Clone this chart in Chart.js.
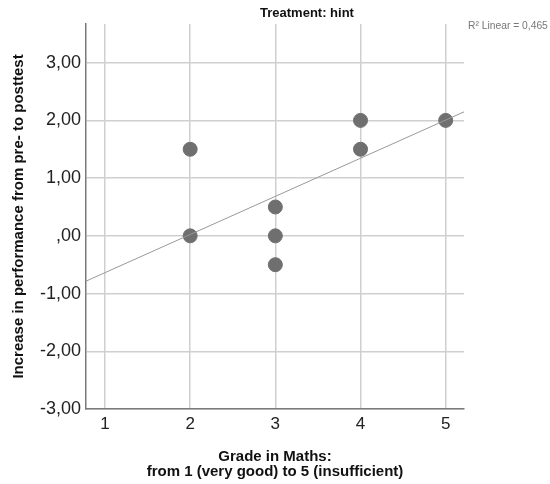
<!DOCTYPE html>
<html>
<head>
<meta charset="utf-8">
<script src="https://cdn.jsdelivr.net/npm/chart.js@4/dist/chart.umd.min.js"></script>
<style>
  html, body { margin: 0; padding: 0; background: #fff; }
  #wrap { width: 550px; height: 484px; }
</style>
</head>
<body>
<div id="wrap"><canvas id="grafico"></canvas></div>
<script>
// datos
const notas = [2, 2, 3, 3, 3, 4, 4, 5];
const incrementos = [1.5, 0, 0.5, 0, -0.5, 2, 1.5, 2];
const xTicks = [1, 2, 3, 4, 5];
const yTicks = [-3, -2, -1, 0, 1, 2, 3];
const xRango = [0.777, 5.215];
const yRango = [-3, 3.67];
const pendiente = 0.661;
const intercepto = -1.299;
const titulo = "Treatment: hint";
const r2Texto = "R² Linear = 0,465";

const puntos = notas.map((x, i) => ({ x, y: incrementos[i] }));
const recta = xRango.map(x => ({ x, y: intercepto + pendiente * x }));

const fuente = "'Liberation Sans', Arial, sans-serif";

const textosExtra = {
    id: "textosExtra",
    afterDraw(chart) {
        const ctx = chart.ctx;
        ctx.save();
        ctx.fillStyle = "#111";
        ctx.font = "bold 13px " + fuente;
        ctx.textAlign = "center";
        ctx.textBaseline = "middle";
        ctx.fillText(titulo, 307, 13);
        ctx.fillStyle = "#777";
        ctx.font = "10.3px " + fuente;
        ctx.textAlign = "left";
        ctx.fillText(r2Texto, 468, 26);
        ctx.restore();
    }
};

new Chart(document.getElementById("grafico"), {
    type: "scatter",
    data: {
        datasets: [
            {
                label: "Linear",
                type: "line",
                data: recta,
                borderColor: "#999999",
                borderWidth: 1,
                pointRadius: 0,
                fill: false
            },
            {
                label: "Datos",
                data: puntos,
                backgroundColor: "#6f6f6f",
                borderColor: "#6f6f6f",
                pointRadius: 7,
                pointHoverRadius: 7
            }
        ]
    },
    options: {
        responsive: true,
        maintainAspectRatio: false,
        animation: false,
        layout: { padding: { top: 24, right: 86, bottom: 5, left: 10 } },
        plugins: {
            legend: { display: false },
            tooltip: { enabled: false }
        },
        scales: {
            x: {
                type: "linear",
                min: xRango[0],
                max: xRango[1],
                afterBuildTicks: axis => { axis.ticks = xTicks.map(v => ({ value: v })); },
                afterFit: axis => { axis.height = 70; },
                ticks: {
                    color: "#222",
                    font: { family: fuente, size: 17 },
                    padding: 5
                },
                grid: { color: "#cfcfcf", lineWidth: 1.5, drawTicks: false },
                border: { color: "#7a7a7a", width: 1.5 },
                title: {
                    display: true,
                    text: ["Grade in Maths:", "from 1 (very good) to 5 (insufficient)"],
                    color: "#111",
                    font: { family: fuente, size: 15, weight: "bold", lineHeight: 1 },
                    padding: 0
                }
            },
            y: {
                type: "linear",
                min: yRango[0],
                max: yRango[1],
                afterBuildTicks: axis => { axis.ticks = yTicks.map(v => ({ value: v })); },
                afterFit: axis => { axis.width = 76; },
                ticks: {
                    color: "#222",
                    font: { family: fuente, size: 18 },
                    padding: 5,
                    callback: v => v === 0 ? ",00" : v.toFixed(2).replace(".", ",")
                },
                grid: { color: "#cfcfcf", lineWidth: 1.5, drawTicks: false },
                border: { color: "#7a7a7a", width: 1.5 },
                title: {
                    display: true,
                    text: "Increase in performance from pre- to posttest",
                    color: "#111",
                    font: { family: fuente, size: 15, weight: "bold" },
                    padding: 0
                }
            }
        }
    },
    plugins: [textosExtra]
});
</script>
</body>
</html>
